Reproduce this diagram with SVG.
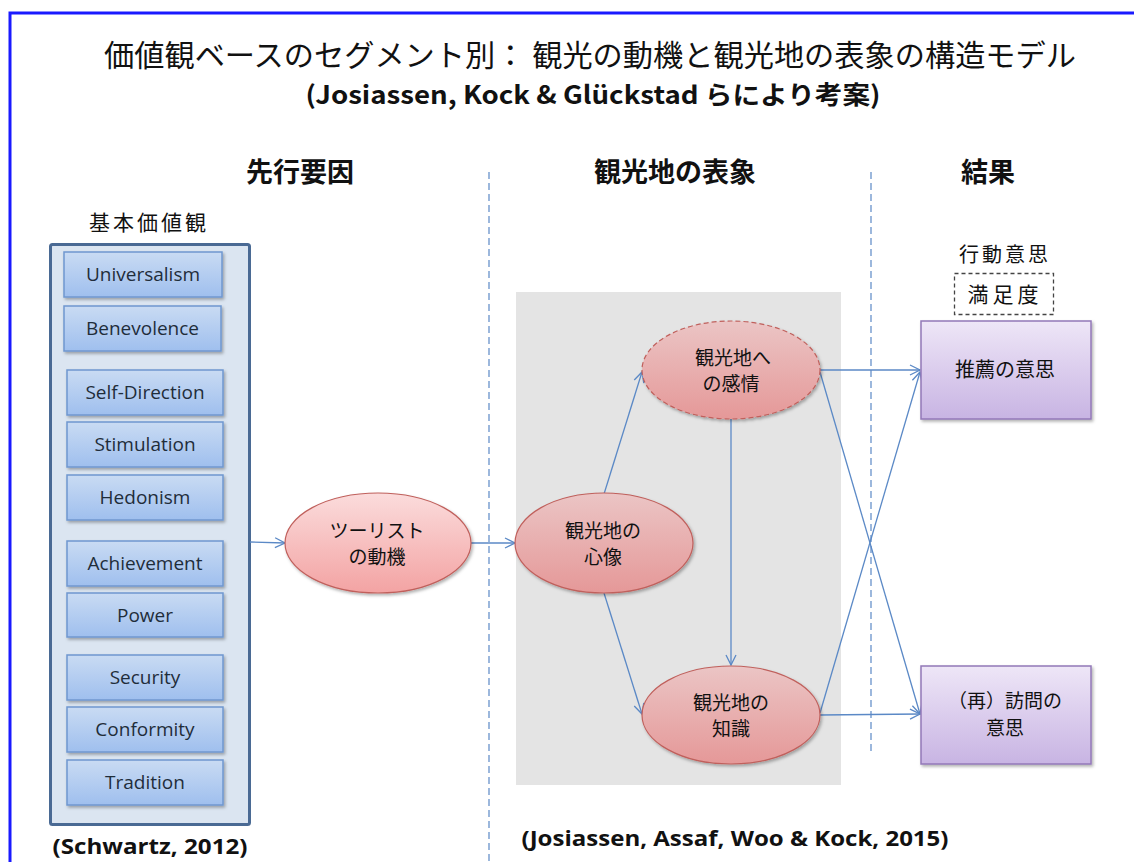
<svg xmlns="http://www.w3.org/2000/svg" width="1134" height="862" viewBox="0 0 1134 862">
<defs>
<style>
.jp{font-family:"Noto Sans CJK JP","Noto Sans CJK SC",sans-serif;fill:#111}
.en{font-family:"Open Sans","Liberation Sans",sans-serif;fill:#1f2d3a;font-size:19px}
.bold{font-weight:bold}
.ib{fill:url(#gBlue);stroke:#6f97cf;stroke-width:1.5}
.el{fill:url(#gPink);stroke:#c0605c;stroke-width:1.2}
.el2{fill:url(#gPink2);stroke:#c0605c;stroke-width:1.2}
.pb{fill:url(#gPurple);stroke:#9378b8;stroke-width:1.5}
.conn{stroke:#5b89c6;stroke-width:1.3;fill:none;marker-end:url(#arr)}
.vdash{stroke:#5b89c6;stroke-width:1.2;stroke-dasharray:7 4;fill:none}
</style>
<linearGradient id="gBlue" x1="0" y1="0" x2="0" y2="1"><stop offset="0" stop-color="#c9dbf3"/><stop offset="1" stop-color="#9fbfee"/></linearGradient>
<linearGradient id="gPink" x1="0" y1="0" x2="0" y2="1"><stop offset="0" stop-color="#fbdcdc"/><stop offset="1" stop-color="#f3a3a3"/></linearGradient>
<linearGradient id="gPink2" x1="0" y1="0" x2="0" y2="1"><stop offset="0" stop-color="#ebc5c5"/><stop offset="1" stop-color="#e59898"/></linearGradient>
<linearGradient id="gPurple" x1="0" y1="0" x2="0" y2="1"><stop offset="0" stop-color="#eee6f7"/><stop offset="1" stop-color="#c8b4e3"/></linearGradient>
<filter id="sh" x="-10%" y="-10%" width="130%" height="130%"><feDropShadow dx="1.5" dy="2" stdDeviation="1.5" flood-color="#000" flood-opacity="0.3"/></filter>
<marker id="arr" viewBox="0 0 12 12" refX="11" refY="6" markerWidth="12" markerHeight="12" markerUnits="userSpaceOnUse" orient="auto"><path d="M1,1 L11,6 L1,11" fill="none" stroke="#5b89c6" stroke-width="1.3"/></marker>
</defs>
<rect x="0" y="0" width="1134" height="862" fill="#fff"/>
<rect x="10" y="13" width="1140" height="870" fill="none" stroke="#1a1aff" stroke-width="3"/>

<g id="title">
<text class="jp" x="590" y="66" font-size="30" text-anchor="middle" textLength="972" lengthAdjust="spacingAndGlyphs">価値観ベースのセグメント別： 観光の動機と観光地の表象の構造モデル</text>
<text class="jp bold" x="593" y="104" font-size="25" text-anchor="middle" textLength="575" lengthAdjust="spacingAndGlyphs">(Josiassen, Kock &amp; Glückstad らにより考案)</text>
</g>

<g id="headers">
<text class="jp bold" x="300" y="182" font-size="27" text-anchor="middle">先行要因</text>
<text class="jp bold" x="675" y="182" font-size="27" text-anchor="middle">観光地の表象</text>
<text class="jp bold" x="988" y="182" font-size="27" text-anchor="middle">結果</text>
</g>

<rect id="imagearea" x="516" y="292" width="325" height="493" fill="#e4e4e4"/>

<g id="dividers">
<line class="vdash" x1="489" y1="172" x2="489" y2="862"/>
<line class="vdash" x1="871" y1="172" x2="871" y2="755"/>
</g>

<g id="values">
<text class="jp" x="149" y="230" font-size="21" text-anchor="middle" letter-spacing="3">基本価値観</text>
<rect x="50.5" y="244.5" width="199" height="580" rx="2" fill="#dbe5f1" stroke="#4a6a94" stroke-width="3"/>
<g id="v-universalism"><rect class="ib" filter="url(#sh)" x="64" y="252" width="158" height="45"/><text class="en" x="143" y="281" text-anchor="middle">Universalism</text></g>
<g id="v-benevolence"><rect class="ib" filter="url(#sh)" x="64" y="306" width="157" height="45"/><text class="en" x="142.5" y="335" text-anchor="middle">Benevolence</text></g>
<g id="v-selfdirection"><rect class="ib" filter="url(#sh)" x="67" y="370" width="156" height="45"/><text class="en" x="145" y="399" text-anchor="middle">Self-Direction</text></g>
<g id="v-stimulation"><rect class="ib" filter="url(#sh)" x="67" y="422" width="156" height="45"/><text class="en" x="145" y="451" text-anchor="middle">Stimulation</text></g>
<g id="v-hedonism"><rect class="ib" filter="url(#sh)" x="67" y="475" width="156" height="45"/><text class="en" x="145" y="504" text-anchor="middle">Hedonism</text></g>
<g id="v-achievement"><rect class="ib" filter="url(#sh)" x="67" y="541" width="156" height="45"/><text class="en" x="145" y="570" text-anchor="middle">Achievement</text></g>
<g id="v-power"><rect class="ib" filter="url(#sh)" x="67" y="593" width="156" height="44"/><text class="en" x="145" y="622" text-anchor="middle">Power</text></g>
<g id="v-security"><rect class="ib" filter="url(#sh)" x="67" y="655" width="156" height="45"/><text class="en" x="145" y="684" text-anchor="middle">Security</text></g>
<g id="v-conformity"><rect class="ib" filter="url(#sh)" x="67" y="707" width="156" height="45"/><text class="en" x="145" y="736" text-anchor="middle">Conformity</text></g>
<g id="v-tradition"><rect class="ib" filter="url(#sh)" x="67" y="760" width="156" height="45"/><text class="en" x="145" y="789" text-anchor="middle">Tradition</text></g>
<text class="en bold" x="150" y="854" text-anchor="middle" style="fill:#111;font-size:22px" textLength="195" lengthAdjust="spacingAndGlyphs">(Schwartz, 2012)</text>
</g>

<g id="connectors">
<line class="conn" x1="250" y1="542" x2="285" y2="543"/>
<line class="conn" x1="471" y1="543" x2="515" y2="543"/>
<line class="conn" x1="604" y1="494" x2="642" y2="372"/>
<line class="conn" x1="604" y1="593" x2="642" y2="714"/>
<line class="conn" x1="731" y1="419" x2="731" y2="665"/>
<line class="conn" x1="820" y1="370" x2="920" y2="370"/>
<line class="conn" x1="820" y1="372" x2="920" y2="714"/>
<line class="conn" x1="820" y1="715" x2="920" y2="714"/>
<line class="conn" x1="820" y1="713" x2="920" y2="372"/>
</g>

<g id="motivation">
<ellipse class="el" filter="url(#sh)" cx="378" cy="543" rx="93" ry="50"/>
<text class="jp" x="377" y="538" font-size="19" text-anchor="middle">ツーリスト</text>
<text class="jp" x="377" y="564" font-size="19" text-anchor="middle">の動機</text>
</g>

<g id="image">
<ellipse class="el2" filter="url(#sh)" cx="604" cy="543" rx="89" ry="50"/>
<text class="jp" x="603" y="538" font-size="19" text-anchor="middle">観光地の</text>
<text class="jp" x="603" y="564" font-size="19" text-anchor="middle">心像</text>
</g>

<g id="affect">
<ellipse class="el2" filter="url(#sh)" cx="731" cy="370" rx="89" ry="49" stroke-dasharray="5 3"/>
<text class="jp" x="733" y="365" font-size="19" text-anchor="middle">観光地へ</text>
<text class="jp" x="731" y="391" font-size="19" text-anchor="middle">の感情</text>
</g>

<g id="knowledge">
<ellipse class="el2" filter="url(#sh)" cx="731" cy="715" rx="89" ry="49"/>
<text class="jp" x="731" y="710" font-size="19" text-anchor="middle">観光地の</text>
<text class="jp" x="731" y="736" font-size="19" text-anchor="middle">知識</text>
</g>

<g id="outcome-labels">
<text class="jp" x="1005" y="262" font-size="20" text-anchor="middle" letter-spacing="3">行動意思</text>
<rect x="954.5" y="273.5" width="99" height="41" fill="none" stroke="#444" stroke-width="1.3" stroke-dasharray="4 3"/>
<text class="jp" x="1005" y="302" font-size="21" text-anchor="middle" letter-spacing="4">満足度</text>
</g>

<g id="recommend">
<rect class="pb" filter="url(#sh)" x="921" y="321" width="170" height="98"/>
<text class="jp" x="1005" y="377" font-size="20" text-anchor="middle">推薦の意思</text>
</g>

<g id="revisit">
<rect class="pb" filter="url(#sh)" x="921" y="666" width="170" height="98"/>
<text class="jp" x="1005" y="708" font-size="19" text-anchor="middle">（再）訪問の</text>
<text class="jp" x="1005" y="735" font-size="19" text-anchor="middle">意思</text>
</g>

<text class="en bold" x="735" y="846" style="fill:#111;font-size:22px" text-anchor="middle" textLength="427" lengthAdjust="spacingAndGlyphs">(Josiassen, Assaf, Woo &amp; Kock, 2015)</text>
</svg>
